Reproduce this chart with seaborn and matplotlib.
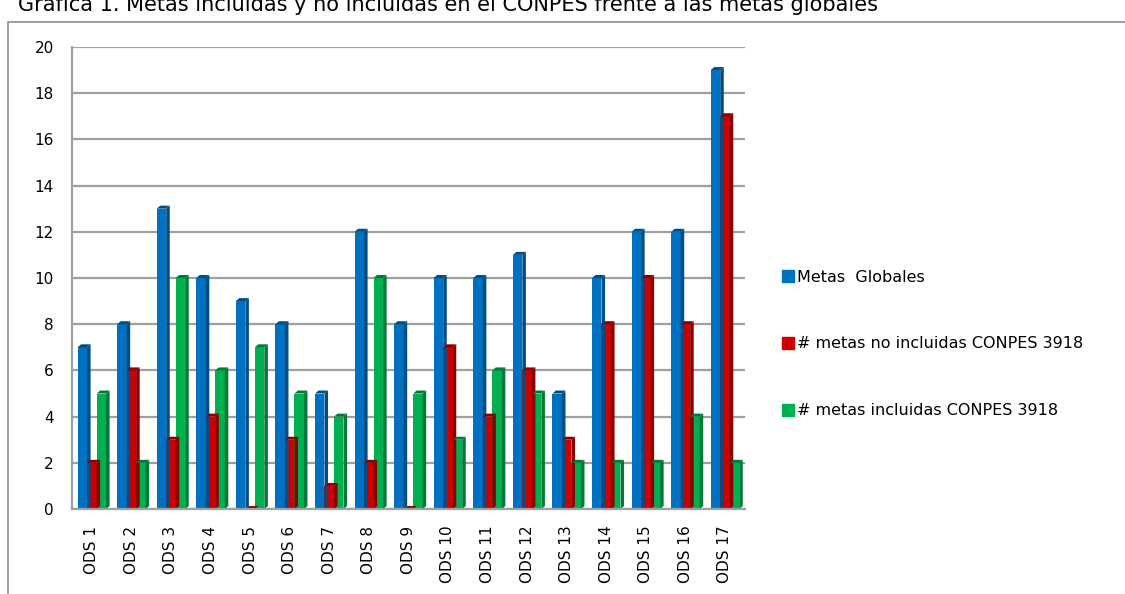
import matplotlib
matplotlib.use("Agg")
import matplotlib.pyplot as plt
import seaborn as sns
import pandas as pd
import numpy as np
from matplotlib.patches import Polygon, Rectangle
from matplotlib.lines import Line2D

categories = [f"ODS {i}" for i in range(1, 18)]
metas_globales = [7, 8, 13, 10, 9, 8, 5, 12, 8, 10, 10, 11, 5, 10, 12, 12, 19]
no_incluidas = [2, 6, 3, 4, 0, 3, 1, 2, 0, 7, 4, 6, 3, 8, 10, 8, 17]
incluidas = [5, 2, 10, 6, 7, 5, 4, 10, 5, 3, 6, 5, 2, 2, 2, 4, 2]
series_names = ["Metas  Globales", "# metas no incluidas CONPES 3918", "# metas incluidas CONPES 3918"]
colors = ["#0070C0", "#CC0000", "#00B050"]
side_colors = ["#004E87", "#8A0000", "#007A38"]
yticks = list(range(0, 21, 2))

df = pd.DataFrame({
    "ODS": categories * 3,
    "serie": [series_names[0]] * 17 + [series_names[1]] * 17 + [series_names[2]] * 17,
    "valor": metas_globales + no_incluidas + incluidas,
})

sns.set_style("white")
plt.rcParams["font.family"] = ["DejaVu Sans"]
plt.rcParams["text.color"] = "black"
plt.rcParams["xtick.labelcolor"] = "black"
plt.rcParams["ytick.labelcolor"] = "black"

fig = plt.figure(figsize=(11.25, 5.94), dpi=100)
ax = fig.add_axes([0.064, 0.143, 0.598, 0.778])

sns.barplot(data=df, x="ODS", y="valor", hue="serie", palette=colors,
            width=0.72, ax=ax, saturation=1, legend=True, linewidth=0)

# pseudo-3D side faces
dx, dy = 0.09, 0.13
for i, cont in enumerate(ax.containers):
    for p in cont.patches:
        x0, w, h = p.get_x(), p.get_width(), p.get_height()
        x1 = x0 + w
        side = Polygon([(x1, 0), (x1 + dx, dy), (x1 + dx, h + dy), (x1, h)],
                       closed=True, facecolor=side_colors[i], edgecolor="none", zorder=p.get_zorder())
        top = Polygon([(x0, h), (x0 + dx, h + dy), (x1 + dx, h + dy), (x1, h)],
                      closed=True, facecolor=side_colors[i], edgecolor="none", zorder=p.get_zorder())
        ax.add_patch(side)
        ax.add_patch(top)

ax.set_ylim(0, 20)
ax.set_xlim(-0.5, 16.5)
ax.set_yticks(yticks)
ax.yaxis.grid(True, color="#A0A0A0", linewidth=1.6)
ax.set_axisbelow(True)
ax.set_xlabel("")
ax.set_ylabel("")
for s in ["top", "right"]:
    ax.spines[s].set_visible(False)
for s in ["left", "bottom"]:
    ax.spines[s].set_color("#A0A0A0")
    ax.spines[s].set_linewidth(1.6)

ax.tick_params(axis="y", length=5, color="#A0A0A0", width=1.2, labelsize=11, pad=8, labelcolor="black")
ax.tick_params(axis="x", which="major", length=0, labelsize=11, pad=12, labelcolor="black")
ax.set_xticks(np.arange(-0.5, 17, 1), minor=True)
ax.tick_params(axis="x", which="minor", length=6, color="#A0A0A0", width=1.2)
for lbl in ax.get_xticklabels():
    lbl.set_rotation(90)

ax.get_legend().remove()
h2 = [Line2D([0], [0], marker="s", linestyle="none", markersize=8, markerfacecolor=c, markeredgecolor=c) for c in colors]
fig.legend(h2, series_names, loc="upper left", bbox_to_anchor=(0.688, 0.557), frameon=False,
           fontsize=11.5, labelspacing=3.25, handletextpad=0.15, handlelength=0.9, borderaxespad=0,
           labelcolor="black")

# outer chart frame
fig.add_artist(Rectangle((0.007, -0.01), 1.0, 0.973, transform=fig.transFigure,
                         fill=False, edgecolor="#8C8C8C", linewidth=1.2))
fig.text(0.016, 0.993, "Gráfica 1. Metas incluidas y no incluidas en el CONPES frente a las metas globales",
         fontsize=15, va="center", ha="left", color="black")

fig.savefig("out.png", dpi=100)
